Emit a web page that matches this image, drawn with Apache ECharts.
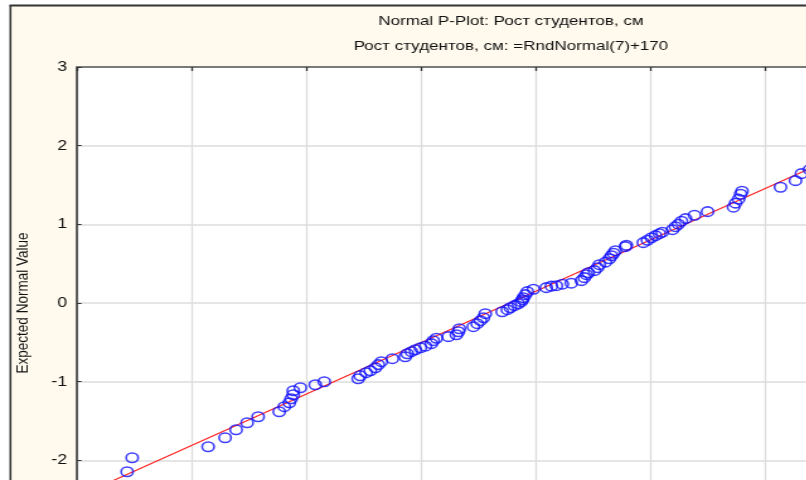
<!DOCTYPE html>
<html>
<head>
<meta charset="utf-8">
<script src="https://cdn.jsdelivr.net/npm/echarts@6/dist/echarts.min.js"></script>
<style>
  html, body { margin: 0; padding: 0; background: #fff; overflow: hidden; }
  /* the reference picture is stretched sideways and cut at the right and bottom:
     draw a bit larger than the window and widen it */
  #chart { width: 715px; height: 560px; transform: scaleX(1.26); transform-origin: 0 0; }
</style>
</head>
<body>
<div id="chart"></div>
<script>
// observed values (Рост студентов, см) and their expected normal values
const heights = [
  152.18, 152.40, 155.71, 156.45, 156.93, 157.41, 157.89, 158.81, 159.03, 159.25,
  159.33, 159.42, 159.42, 159.73, 160.38, 160.77, 162.25, 162.34, 162.60, 162.78,
  163.00, 163.13, 163.26, 163.74, 164.30, 164.39, 164.57, 164.74, 164.96, 165.18,
  165.44, 165.52, 165.66, 166.18, 166.53, 166.62, 166.66, 167.27, 167.44, 167.58,
  167.71, 167.79, 168.53, 168.75, 168.88, 169.06, 169.23, 169.36, 169.41, 169.45,
  169.54, 169.62, 169.89, 170.45, 170.67, 170.89, 171.15, 171.54, 171.98, 172.11,
  172.20, 172.28, 172.55, 172.68, 172.76, 173.03, 173.20, 173.29, 173.38, 173.46,
  173.90, 173.94, 174.68, 174.86, 175.03, 175.21, 175.38, 175.51, 175.95, 176.08,
  176.21, 176.34, 176.52, 176.91, 177.48, 178.61, 178.70, 178.83, 178.92, 178.98,
  180.66, 181.31, 181.57, 181.92
]
const expected = [
  -2.145, -1.967, -1.827, -1.713, -1.611, -1.522, -1.446, -1.382, -1.318, -1.268,
  -1.217, -1.166, -1.115, -1.077, -1.039, -1.001, -0.963, -0.925, -0.886, -0.861,
  -0.823, -0.784, -0.746, -0.708, -0.683, -0.645, -0.619, -0.594, -0.569, -0.549,
  -0.517, -0.479, -0.448, -0.428, -0.403, -0.365, -0.327, -0.301, -0.263, -0.225,
  -0.187, -0.136, -0.111, -0.085, -0.060, -0.034, -0.009, 0.017, 0.042, 0.067,
  0.106, 0.144, 0.175, 0.195, 0.214, 0.220, 0.239, 0.252, 0.284, 0.322,
  0.360, 0.385, 0.411, 0.449, 0.487, 0.519, 0.563, 0.601, 0.633, 0.665,
  0.716, 0.735, 0.767, 0.798, 0.830, 0.856, 0.881, 0.900, 0.932, 0.970,
  1.002, 1.040, 1.072, 1.116, 1.161, 1.218, 1.269, 1.320, 1.383, 1.421,
  1.472, 1.555, 1.644, 1.695
]
// reference line end points
const fitX = [150, 185]
const fitY = [-2.463, 2.111]
const yTicks = [-3, -2, -1, 0, 1, 2, 3]

const titleText = 'Normal P-Plot: Рост студентов, см'
const subText = 'Рост студентов, см: =RndNormal(7)+170'

const font = '"Liberation Sans", Arial, sans-serif'

const chart = echarts.init(document.getElementById('chart'))
const option = {
  backgroundColor: '#fffaed',
  animation: false,
  textStyle: { fontFamily: font },
  graphic: [
    { type: 'rect', shape: { x: 0, y: 0, width: 715, height: 5 }, style: { fill: '#fff' } },
    { type: 'rect', shape: { x: 0, y: 0, width: 7.6, height: 560 }, style: { fill: '#fff' } },
    { type: 'line', shape: { x1: 7.6, y1: 5.5, x2: 715, y2: 5.5 }, style: { stroke: '#333', lineWidth: 2 } },
    { type: 'line', shape: { x1: 8.3, y1: 5, x2: 8.3, y2: 560 }, style: { stroke: '#333', lineWidth: 1.6 } },
    {
      type: 'text', x: 405.5, y: 21,
      style: { text: titleText, textAlign: 'center', textVerticalAlign: 'middle', font: '13.5px ' + font, fill: '#111' }
    },
    {
      type: 'text', x: 405.5, y: 46,
      style: { text: subText, textAlign: 'center', textVerticalAlign: 'middle', font: '13.5px ' + font, fill: '#111' }
    }
  ],
  grid: {
    left: 61.2, top: 67, width: 637.3, height: 472,
    show: true, backgroundColor: '#fff', borderWidth: 0
  },
  xAxis: [
    {
      type: 'value', min: 150, max: 185, interval: 5, position: 'bottom',
      axisLine: { show: true, onZero: false, lineStyle: { color: '#444', width: 2 } },
      axisTick: { inside: true, length: 4, lineStyle: { color: '#333' } },
      axisLabel: { show: false },
      splitLine: { show: true, lineStyle: { color: '#dcdcdc', width: 1.3 } }
    },
    {
      type: 'value', min: 150, max: 185, interval: 5, position: 'top',
      axisLine: { show: true, onZero: false, lineStyle: { color: '#7a7a7a', width: 2 } },
      axisTick: { show: true, inside: true, length: 4, lineStyle: { color: '#333', width: 1.3 } },
      axisLabel: { show: false },
      splitLine: { show: false }
    }
  ],
  yAxis: {
    type: 'value', min: -3, max: 3, interval: 1,
    name: 'Expected Normal Value',
    nameLocation: 'middle', nameGap: 36,
    nameTextStyle: { fontSize: 13.5, color: '#111', fontFamily: font },
    axisLine: { show: true, onZero: false, lineStyle: { color: '#444', width: 1.7 } },
    axisTick: { show: true, inside: true, length: 3.5, lineStyle: { color: '#333' } },
    axisLabel: {
      margin: 8, fontSize: 14, color: '#111', fontFamily: font,
      formatter: (v) => yTicks.includes(v) ? String(v) : ''
    },
    splitLine: { show: true, lineStyle: { color: '#dcdcdc', width: 1.5 } }
  },
  series: [
    {
      type: 'line',
      data: fitX.map((x, i) => [x, fitY[i]]),
      symbol: 'none',
      lineStyle: { color: '#ff2020', width: 1.1 },
      z: 2
    },
    {
      type: 'scatter',
      data: heights.map((h, i) => [h, expected[i]]),
      symbol: 'circle',
      symbolSize: 9.5,
      itemStyle: { color: 'rgba(0,0,0,0)', borderColor: '#1010ff', borderWidth: 1.6 },
      z: 3
    }
  ]
}
chart.setOption(option)
</script>
</body>
</html>
